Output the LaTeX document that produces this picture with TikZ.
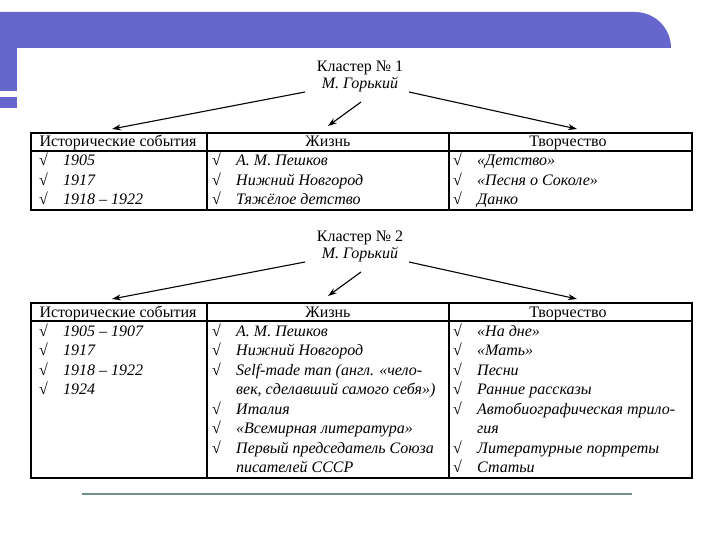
\documentclass[tikz,border=0pt]{standalone}
\usepackage{fontspec}
\setmainfont{Liberation Serif}
\usetikzlibrary{arrows.meta}
\definecolor{band}{RGB}{102,102,204}
\definecolor{rulecol}{RGB}{112,146,140}
\newcommand\colitems[4]{%
  \foreach \c/\txt [count=\i] in {#4}{%
    \node[item] (#1\i) at ({#2+24},{#3+19.5*(\i-1)}) {\txt};
    \ifnum\c=1 \node[chk] (#1c\i) at (#2,{#3+19.5*(\i-1)}) {√};\fi
  }}
\begin{document}
\begin{tikzpicture}[x=1pt,y=-1pt,
  every node/.style={inner sep=0pt},
  txt/.style={font=\fontsize{16}{17}\selectfont},
  hdr/.style={txt, anchor=base},
  item/.style={font=\fontsize{16}{17}\selectfont\itshape, anchor=base west},
  chk/.style={txt, anchor=base west},
  grid/.style={line width=1.1pt},
  arr/.style={line width=1.1pt, -{Stealth[length=9pt,width=6pt]}},
]
\useasboundingbox (0,0) rectangle (720,540);
% decoration
\fill[band] (0,48) -- (0,12) -- (635,12) arc[start angle=-90, end angle=0, radius=36] -- (671,48) -- cycle;
\fill[band] (0,47) rectangle (17,91);
\fill[band] (0,97) rectangle (17,108);
\draw[rulecol, line width=1.6pt] (82,494) -- (632,494);

% ---------- cluster 1
\node[txt, align=center] (t1) at (360,76) {Кластер № 1\\\textit{М. Горький}};
\draw[grid] (31,133) rectangle (692,210);
\draw[grid] (31,151) -- (692,151);
\draw[grid] (207,133) -- (207,210);
\draw[grid] (449,133) -- (449,210);
\node[hdr] (h1a) at (118,147) {Исторические события};
\node[hdr] (h1b) at (328,147) {Жизнь};
\node[hdr] (h1c) at (568,147) {Творчество};
\coordinate (s1a) at (305,92);  \coordinate (e1a) at (112,129);
\coordinate (s1b) at (361,102); \coordinate (e1b) at (328,126);
\coordinate (s1c) at (409,92);  \coordinate (e1c) at (577,129);
\draw[arr] (s1a) -- (e1a);
\draw[arr] (s1b) -- (e1b);
\draw[arr] (s1c) -- (e1c);
\colitems{a}{39}{166}{1/1905, 1/1917, 1/1918 – 1922}
\colitems{b}{212}{166}{1/А. М. Пешков, 1/Нижний Новгород, 1/Тяжёлое детство}
\colitems{c}{453}{166}{1/«Детство», 1/«Песня о Соколе», 1/Данко}

% ---------- cluster 2
\node[txt, align=center] (t2) at (360,246) {Кластер № 2\\\textit{М. Горький}};
\draw[grid] (31,303) rectangle (692,478);
\draw[grid] (31,321) -- (692,321);
\draw[grid] (207,303) -- (207,478);
\draw[grid] (449,303) -- (449,478);
\node[hdr] (h2a) at (118,317) {Исторические события};
\node[hdr] (h2b) at (328,317) {Жизнь};
\node[hdr] (h2c) at (568,317) {Творчество};
\coordinate (s2a) at (305,262);  \coordinate (e2a) at (112,299);
\coordinate (s2b) at (361,272);  \coordinate (e2b) at (328,296);
\coordinate (s2c) at (409,262);  \coordinate (e2c) at (577,299);
\draw[arr] (s2a) -- (e2a);
\draw[arr] (s2b) -- (e2b);
\draw[arr] (s2c) -- (e2c);
\colitems{d}{39}{336}{1/1905 – 1907, 1/1917, 1/1918 – 1922, 1/1924}
\colitems{e}{212}{336}{1/А. М. Пешков, 1/Нижний Новгород, 1/{Self-made man (англ. «чело-}, 0/{век, сделавший самого себя»)}, 1/Италия, 1/«Всемирная литература», 1/Первый председатель Союза, 0/писателей СССР}
\colitems{f}{453}{336}{1/«На дне», 1/«Мать», 1/Песни, 1/Ранние рассказы, 1/Автобиографическая трило-, 0/гия, 1/Литературные портреты, 1/Статьи}
\end{tikzpicture}
\end{document}
